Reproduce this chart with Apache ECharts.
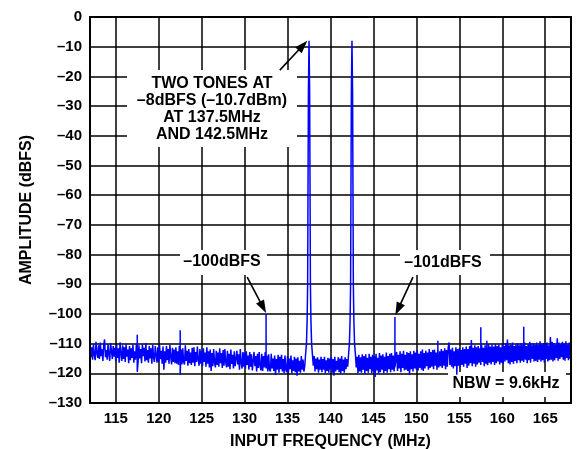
<!DOCTYPE html>
<html><head><meta charset="utf-8">
<script src="https://cdn.jsdelivr.net/npm/echarts@6/dist/echarts.min.js"></script>
<style>html,body{margin:0;padding:0;background:#fff}#c{width:584px;height:449px}</style>
</head><body><div id="c"></div>
<script>
// ---- Data ----
const xTicks = [115, 120, 125, 130, 135, 140, 145, 150, 155, 160, 165];
const xMin = 112, xMax = 168;
const yMin = -130, yMax = 0, yStep = 10;

// noise floor, sampled every 0.1 MHz from 112.0 to 168.0 (dBFS), one row per MHz
const NOISE_START = 112.0;
const NOISE_STEP = 0.1;
const noise = [
  -109.8,-114.6,-111.2,-115.4,-110.2,-113.8,-115.6,-109.4,-113.2,-114.8, // 112
  -110.6,-115.2,-109.6,-114.2,-111.8,-115.8,-110.4,-108.6,-114.6,-112.2, // 113
  -115.4,-110.2,-113.6,-115.8,-109.8,-112.4,-115.2,-110.8,-114.4,-111.4, // 114
  -116,-110.4,-114.8,-111.6,-116.4,-109.6,-113.4,-115.8,-110.6,-115.2,   // 115
  -111.2,-116.2,-110.2,-114.4,-112,-116.6,-110.8,-115.6,-111.6,-114.8,   // 116
  -110.4,-116.4,-112.6,-115.4,-110.2,-114.8,-116.2,-110.6,-115,-111.8,   // 117
  -116.6,-110.2,-114.2,-111.4,-116,-109.8,-115.6,-112.2,-116.4,-110.8,   // 118
  -115,-111.6,-116.8,-110.4,-114.6,-116.2,-110.8,-113.8,-116.4,-111.2,   // 119
  -116.2,-110.6,-115.2,-112.4,-116.8,-111,-118.8,-112.6,-116.4,-110.8,   // 120
  -115.6,-111.8,-116.8,-110.4,-114.4,-117,-111.4,-116.2,-112,-116.6,     // 121
  -111.2,-116.8,-112.6,-117.2,-110.8,-115.6,-112,-117,-111.6,-116.2,     // 122
  -117,-110.6,-115.8,-112.4,-117.4,-111.8,-116.6,-113,-117.2,-111.4,     // 123
  -116.4,-111.2,-117.6,-112.8,-116.2,-111,-115.4,-117.4,-111.8,-116.8,   // 124
  -112.4,-117.6,-111.6,-116.2,-113,-117.8,-111.2,-116.8,-112.6,-118,     // 125
  -112,-119.2,-113.2,-117.6,-111.8,-116.4,-118,-112.4,-117.2,-113,       // 126
  -117.8,-111.6,-116.6,-113.2,-118.2,-112.2,-117.4,-111.8,-116.2,-118,   // 127
  -112.4,-117.8,-113.4,-118.6,-112,-116.8,-113.8,-118.4,-112.6,-117.6,   // 128
  -118.2,-112.4,-117,-113.6,-118.8,-111.8,-116.6,-118.4,-112.8,-117.8,   // 129
  -113,-118.4,-112.6,-117.2,-114,-118.8,-112.8,-117.8,-113.6,-119,       // 130
  -118.6,-112.8,-117.6,-114.2,-119.4,-113.4,-118.2,-112.8,-117.4,-119,   // 131
  -113.4,-119.2,-114.2,-118,-112.8,-118.4,-114,-119.4,-113.6,-118.6,     // 132
  -119.4,-113.4,-118.4,-115,-119.2,-114,-120.6,-115.2,-118.8,-113.8,     // 133
  -119.8,-114.4,-118.6,-113.8,-119.4,-115.2,-120,-114,-118.8,-119.6,     // 134
  -114.2,-119.8,-115,-118.6,-114,-120,-115.6,-119.2,-114.4,-119.6,       // 135
  -115,-120.8,-114.6,-119.4,-115.8,-119.8,-114.2,-118.8,-115.4,-119.4,   // 136
  -117.6,-113.6,-112.2,-110,-110,-110,-110,-110,-112,-113.8,             // 137
  -117.4,-114.2,-119.4,-115,-118.6,-114.6,-119.8,-115.4,-118.8,-114.4,   // 138
  -119.6,-115.2,-118.8,-114.4,-120,-115.6,-119.2,-114.8,-119.8,-115,     // 139
  -118.6,-114.6,-119.8,-115.2,-120.8,-114.4,-119.4,-115.8,-118.8,-114.6, // 140
  -119.6,-115,-120,-114.2,-119.2,-115.4,-119.8,-114.6,-118.6,-115.2,     // 141
  -117.8,-113.8,-112.2,-110,-110,-110,-110,-110,-112,-113.6,             // 142
  -118,-114.4,-120,-113.8,-119.4,-114.6,-119.8,-113.6,-118.8,-114.2,     // 143
  -120.2,-113.6,-119.2,-114.8,-119.8,-113.4,-118.6,-114.4,-120,-113.8,   // 144
  -119.4,-114.2,-121.2,-113.4,-119,-114.8,-120,-113.2,-119.6,-114,       // 145
  -118.8,-113.6,-120,-114.4,-119.2,-113,-119.8,-114.2,-118.6,-113.4,     // 146
  -119.6,-113.2,-118.8,-114,-119.4,-113.6,-118.6,-112.8,-119.2,-113.8,   // 147
  -118.4,-112.6,-119.6,-113.4,-118.2,-112.4,-119,-113.8,-118.8,-112.8,   // 148
  -119.2,-113.2,-120.6,-112.6,-118.6,-113.6,-119.4,-112.4,-118.4,-113,   // 149
  -118.8,-112.2,-119,-113.4,-118.2,-112.6,-118.8,-112,-119.2,-113.2,     // 150
  -118.4,-112.4,-117.6,-113,-118.8,-111.8,-118.2,-112.8,-117.8,-112.2,   // 151
  -118.6,-112,-117.4,-113,-118.8,-111.6,-118,-112.6,-117.6,-111.8,       // 152
  -118.2,-112.4,-117.4,-111.6,-118.6,-112.2,-117.8,-111.4,-109.6,-117.2, // 153
  -112,-117.8,-111.4,-118.4,-112.6,-117.6,-111.2,-118,-111.8,-117.4,     // 154
  -111.6,-118,-112.2,-117.2,-111.2,-117.8,-111.8,-116.8,-111,-118.2,     // 155
  -111.8,-117.4,-110.8,-116.6,-108.8,-117.6,-111.4,-116.8,-110.6,-117.8, // 156
  -111.2,-117,-110.8,-116.4,-111.6,-117.2,-110.6,-116.2,-111.4,-117.6,   // 157
  -110.6,-116.8,-111.2,-117.2,-110.2,-116.4,-111,-117,-110.4,-116.2,     // 158
  -111,-117.2,-110.2,-116.6,-110.8,-116,-110.4,-117,-111.2,-116.4,       // 159
  -110.2,-116.8,-110.8,-116,-109.8,-115.6,-108.6,-116.6,-110.6,-117,     // 160
  -110.4,-116.2,-109.6,-116.8,-110.8,-115.8,-110.2,-116.6,-109.8,-115.6, // 161
  -110.6,-116.4,-109.8,-115.8,-110.4,-116.2,-109.6,-115.4,-110.8,-116.6, // 162
  -110.2,-115.6,-109.4,-116.4,-110.6,-115.2,-109.8,-116,-110.4,-115.8,   // 163
  -109.6,-116.2,-110.4,-115.4,-109.2,-116,-110.2,-115.6,-109.8,-116.4,   // 164
  -110.2,-115.2,-109.6,-116,-110.6,-115.6,-107.8,-115.4,-109.4,-116,     // 165
  -109.8,-115.6,-110.4,-114.8,-108.2,-115.8,-109.6,-115.2,-110.2,-114.6, // 166
  -109.4,-115.4,-110,-115.8,-109.2,-114.8,-110.4,-115.6,-109.6,-115.2,   // 167
  -110                                                                   // 168
];

// spurs: frequency (MHz), peak (dBFS), trough (dBFS)
const spurFreqs   = [117.5, 122.5, 132.5, 147.5, 152.5, 154.7, 157.5, 158.2, 162.5, 163.3];
const spurPeaks   = [-107, -105.5, -100, -101, -109, -113, -104.5, -109, -104.3, -110];
const spurTroughs = [-119.5, -120.5, -117, -118, -117, -120.5, -116, -116.5, -115.5, -115.5];

// the two input tones and their skirt shape
const toneFreqs = [137.5, 142.5];
const toneOffsets = [-0.3, -0.22, -0.16, -0.12, -0.07, 0, 0.07, 0.12, 0.16, 0.22, 0.3];
const toneLevels  = [-110, -102, -90, -60, -25, -8, -25, -60, -90, -102, -110];

// annotations
const annotationTexts = ['TWO TONES AT\n\u20138dBFS (\u201310.7dBm)\nAT 137.5MHz\nAND 142.5MHz', '\u2013100dBFS', '\u2013101dBFS', 'NBW = 9.6kHz'];
const arrowTails = [[134.1, -17.9], [130.3, -87.6], [149.6, -87.6]];
const arrowTips  = [[137.3, -8], [132.5, -99.7], [147.55, -100.4]];

// ---- Build series ----
const pts = [];
noise.forEach((v, i) => {
  const f = +(NOISE_START + i * NOISE_STEP).toFixed(2);
  if (toneFreqs.some(t => Math.abs(f - t) < 0.32)) return;
  pts.push([f, v]);
});
spurFreqs.forEach((f, i) => { pts.push([f, spurPeaks[i]]); pts.push([f, spurTroughs[i]]); });
toneFreqs.forEach(t => toneOffsets.forEach((o, j) => pts.push([+(t + o).toFixed(3), toneLevels[j]])));
pts.sort((a, b) => a[0] - b[0]);

const FONT = '"Liberation Sans", Arial, Helvetica, sans-serif';
const chart = echarts.init(document.getElementById('c'), null, {renderer: 'canvas'});
chart.setOption({
  animation: false,
  backgroundColor: '#fff',
  grid: {left: 90, right: 13, top: 17, bottom: 46, containLabel: false, outerBoundsMode: 'none',
    show: true, borderColor: '#000', borderWidth: 2, backgroundColor: 'transparent', z: 5},
  xAxis: {
    type: 'value', min: xMin, max: xMax,
    name: 'INPUT FREQUENCY (MHz)', nameLocation: 'middle', nameGap: 31,
    nameTextStyle: {fontFamily: FONT, fontWeight: 'bold', fontSize: 16, color: '#000'},
    axisLine: {show: false},
    axisTick: {show: false, customValues: xTicks},
    axisLabel: {customValues: xTicks, fontFamily: FONT, fontWeight: 'bold', fontSize: 15, color: '#000', margin: 8},
    splitLine: {show: true, lineStyle: {color: '#000', width: 1.5}}
  },
  yAxis: {
    type: 'value', min: yMin, max: yMax, interval: yStep,
    name: 'AMPLITUDE (dBFS)', nameLocation: 'middle', nameGap: 55, nameRotate: 90,
    nameTextStyle: {fontFamily: FONT, fontWeight: 'bold', fontSize: 16, color: '#000'},
    axisLine: {show: false}, axisTick: {show: false},
    axisLabel: {fontFamily: FONT, fontWeight: 'bold', fontSize: 15, color: '#000', margin: 8,
      formatter: v => v === 0 ? '0' : '\u2013' + Math.abs(v)},
    splitLine: {show: true, lineStyle: {color: '#000', width: 1.5}}
  },
  series: [{
    type: 'line', data: pts, showSymbol: false, symbol: 'none', z: 3,
    lineStyle: {color: '#0000ff', width: 1.5}, sampling: null
  }]
});

function drawAnnotations() {
  const px = p => chart.convertToPixel({gridIndex: 0}, p);
  const els = [];
  const boxes = [[127, 70, 170, 77], [180, 250, 87, 25], [400, 250, 90, 25], [448, 372, 118, 25]];
  const textPos = [[212, 109], [222, 262], [443, 262.5], [506, 383.5]];
  boxes.forEach(b => els.push({type: 'rect', z: 1, shape: {x: b[0], y: b[1], width: b[2], height: b[3]}, style: {fill: '#fff'}, silent: true}));
  annotationTexts.forEach((t, i) => els.push({type: 'text', z: 6, style: {text: t, x: textPos[i][0], y: textPos[i][1], fill: '#000',
    font: 'bold 16px ' + FONT, align: 'center', verticalAlign: 'middle', lineHeight: 17}, silent: true}));
  arrowTails.forEach((tl, i) => {
    const a = px(tl), b = px(arrowTips[i]);
    const dx = b[0] - a[0], dy = b[1] - a[1], L = Math.hypot(dx, dy);
    const ux = dx / L, uy = dy / L, hl = 13, hw = 4.5;
    const bx = b[0] - ux * hl, by = b[1] - uy * hl;
    els.push({type: 'line', z: 6, shape: {x1: a[0], y1: a[1], x2: bx + ux * 2, y2: by + uy * 2}, style: {stroke: '#000', lineWidth: 1.6}, silent: true});
    els.push({type: 'polygon', z: 6, shape: {points: [[b[0], b[1]], [bx - uy * hw, by + ux * hw], [bx + uy * hw, by - ux * hw]]}, style: {fill: '#000'}, silent: true});
  });
  chart.setOption({graphic: {elements: els}});
}
drawAnnotations();
</script>
</body></html>
